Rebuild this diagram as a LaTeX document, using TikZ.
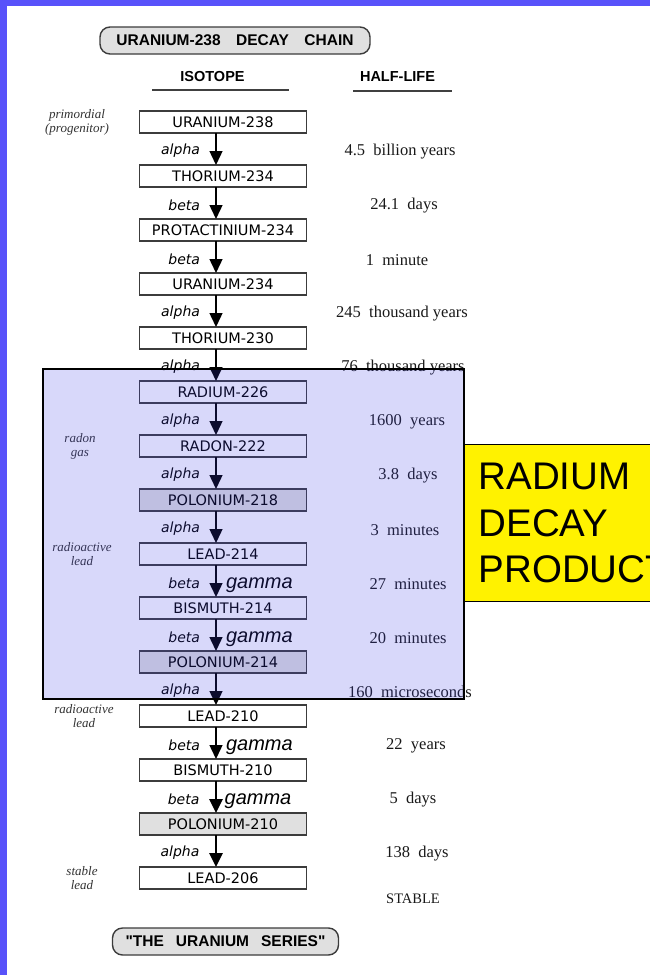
\documentclass[tikz,border=0pt]{standalone}
\usepackage{fontspec}
\setmainfont{Liberation Serif}
\setsansfont{DejaVu Sans}
\newfontfamily\arialfont{Liberation Sans}
\usepackage{tikz}
\usetikzlibrary{arrows.meta,positioning,calc}
\definecolor{frameblue}{RGB}{88,82,250}
\definecolor{boxgray}{RGB}{224,224,224}
\definecolor{overlayblue}{RGB}{60,60,230}
\definecolor{edgegray}{RGB}{60,60,60}

\begin{document}
\begin{tikzpicture}[
    x=1pt, y=-1pt,
    % --- STYLES ---
    isotope/.style={
        rectangle, draw=edgegray, fill=white,
        line width=1.1pt,
        minimum width=167pt,
        minimum height=22pt,
        inner sep=1pt, outer sep=0pt,
        font=\sffamily\fontsize{14.5}{16}\selectfont
    },
    shadedbox/.style={isotope, fill=boxgray},
    banner/.style={
        rectangle, rounded corners=10pt,
        draw=edgegray, fill=boxgray,
        line width=1.4pt, minimum height=27pt,
        font=\arialfont\bfseries\fontsize{15.5}{17}\selectfont
    },
    header/.style={font=\arialfont\bfseries\fontsize{14.5}{16}\selectfont},
    headrule/.style={line width=1.5pt, draw=black!75},
    decay/.style={-{Triangle[length=14pt,width=13pt]}, line width=1.4pt},
    heavy/.style={decay, line width=2.6pt},
    decaymode/.style={font=\sffamily\itshape\fontsize{14}{16}\selectfont, yshift=-2pt},
    gammaray/.style={font=\arialfont\itshape\fontsize{20}{22}\selectfont, yshift=-4pt},
    halflife/.style={font=\fontsize{16.5}{18}\selectfont, text=black!90, yshift=-1pt},
    note/.style={font=\itshape\fontsize{13}{14}\selectfont, align=center, text=black!80},
    productbox/.style={
        rectangle, draw=black, fill=yellow,
        line width=1.4pt,
        minimum height=157pt, inner xsep=14pt,
        align=left, anchor=north west,
        font=\arialfont\fontsize{38.5}{46.5}\selectfont
    }
]

% ===== 1. PAGE & FRAME =====
\useasboundingbox (0,0) rectangle (650,975);
\clip (0,0) rectangle (650,975);
\fill[white] (0,0) rectangle (650,975);
\fill[frameblue] (0,0) rectangle (7,975);
\fill[frameblue] (0,0) rectangle (650,6);

% ===== 2. HEADERS =====
\node[banner, minimum width=270pt] (title) at (235,40.5) {URANIUM-238\quad DECAY\quad CHAIN};

\node[header] (iso) at (212.5,77) {ISOTOPE};
\node[header] (half) at (397.5,77) {HALF-LIFE};
\draw[headrule] (152,90) -- (289,90);
\draw[headrule] (353,91) -- (452,91);

% ===== 3. ISOTOPE CHAIN =====
\node[isotope] (u238) at (223,122) {URANIUM-238};
\node[isotope, below=32pt of u238] (th234) {THORIUM-234};
\node[isotope, below=32pt of th234] (pa234) {PROTACTINIUM-234};
\node[isotope, below=32pt of pa234] (u234) {URANIUM-234};
\node[isotope, below=32pt of u234] (th230) {THORIUM-230};
\node[isotope, below=32pt of th230] (ra226) {RADIUM-226};
\node[isotope, below=32pt of ra226] (rn222) {RADON-222};
\node[shadedbox, below=32pt of rn222] (po218) {POLONIUM-218};
\node[isotope, below=32pt of po218] (pb214) {LEAD-214};
\node[isotope, below=32pt of pb214] (bi214) {BISMUTH-214};
\node[shadedbox, below=32pt of bi214] (po214) {POLONIUM-214};
\node[isotope, below=32pt of po214] (pb210) {LEAD-210};
\node[isotope, below=32pt of pb210] (bi210) {BISMUTH-210};
\node[shadedbox, below=32pt of bi210] (po210) {POLONIUM-210};
\node[isotope, below=32pt of po210] (pb206) {LEAD-206};

% Ghi chu ben trai
\node[note] at (77, 0 |- u238) {primordial\\(progenitor)};
\node[note] at (80, 0 |- rn222) {radon\\gas};
\node[note] at (82, 0 |- pb214) {radioactive\\lead};
\node[note] at (84, 0 |- pb210) {radioactive\\lead};
\node[note] at (82, 0 |- pb206) {stable\\lead};

% ===== 4. DECAY ARROWS =====
\draw[decay] ([xshift=-7pt]u238.south) -- node[decaymode, left=12pt] (d1) {alpha} ([xshift=-7pt]th234.north);
\draw[decay] ([xshift=-7pt]th234.south) -- node[decaymode, left=12pt] (d2) {beta} ([xshift=-7pt]pa234.north);
\draw[decay] ([xshift=-7pt]pa234.south) -- node[decaymode, left=12pt] (d3) {beta} ([xshift=-7pt]u234.north);
\draw[decay] ([xshift=-7pt]u234.south) -- node[decaymode, left=12pt] (d4) {alpha} ([xshift=-7pt]th230.north);
\draw[decay] ([xshift=-7pt]th230.south) -- node[decaymode, left=12pt] (d5) {alpha} ([xshift=-7pt]ra226.north);
\draw[decay] ([xshift=-7pt]ra226.south) -- node[decaymode, left=12pt] (d6) {alpha} ([xshift=-7pt]rn222.north);
\draw[decay] ([xshift=-7pt]rn222.south) -- node[decaymode, left=12pt] (d7) {alpha} ([xshift=-7pt]po218.north);
\draw[decay] ([xshift=-7pt]po218.south) -- node[decaymode, left=12pt] (d8) {alpha} ([xshift=-7pt]pb214.north);
\draw[decay] ([xshift=-7pt]pb214.south) -- node[decaymode, left=12pt] (d9) {beta}
    node[gammaray, right=6pt] {gamma} ([xshift=-7pt]bi214.north);
\draw[decay] ([xshift=-7pt]bi214.south) -- node[decaymode, left=12pt] (d10) {beta}
    node[gammaray, right=6pt] {gamma} ([xshift=-7pt]po214.north);
\draw[decay] ([xshift=-7pt]po214.south) -- node[decaymode, left=12pt] (d11) {alpha} ([xshift=-7pt]pb210.north);
\draw[decay] ([xshift=-7pt]pb210.south) -- node[decaymode, left=12pt] (d12) {beta}
    node[gammaray, right=6pt] {gamma} ([xshift=-7pt]bi210.north);
\draw[heavy] ([xshift=-7pt]bi210.south) -- node[decaymode, left=12pt] (d13) {beta}
    node[gammaray, right=4pt] {gamma} ([xshift=-7pt]po210.north);
\draw[heavy] ([xshift=-7pt]po210.south) -- node[decaymode, left=12pt] (d14) {alpha} ([xshift=-7pt]pb206.north);

% ===== 5. HALF-LIVES =====
\node[halflife] at (400, 0 |- d1) {4.5\enspace billion years};
\node[halflife] at (404, 0 |- d2) {24.1\enspace days};
\node[halflife] at (397, 0 |- d3) {1\enspace minute};
\node[halflife] at (402, 0 |- d4) {245\enspace thousand years};
\node[halflife] at (403, 0 |- d5) {76\enspace thousand years};
\node[halflife] at (407, 0 |- d6) {1600\enspace years};
\node[halflife] at (408, 0 |- d7) {3.8\enspace days};
\node[halflife] at (405, 0 |- d8) {3\enspace minutes};
\node[halflife] at (408, 0 |- d9) {27\enspace minutes};
\node[halflife] at (408, 0 |- d10) {20\enspace minutes};
\node[halflife] at (410, 0 |- d11) {160\enspace microseconds};
\node[halflife] at (416, 0 |- d12) {22\enspace years};
\node[halflife] at (413, 0 |- d13) {5\enspace days};
\node[halflife] at (417, 0 |- d14) {138\enspace days};
\node[halflife, font=\fontsize{14.5}{16}\selectfont] (stable) at (413,898) {STABLE};

% ===== 6. RADIUM DECAY PRODUCTS =====
\path[draw=black, line width=1.4pt, fill=overlayblue, fill opacity=0.2] (43,369) rectangle (464,699);
\node[productbox] (radium) at (464,444) {RADIUM\\DECAY\\PRODUCTS};

% ===== 7. FOOTER =====
\node[banner, minimum width=226pt] (series) at (225.5,941.5) {"THE\hspace{12pt}URANIUM\hspace{12pt}SERIES"};

\end{tikzpicture}
\end{document}
